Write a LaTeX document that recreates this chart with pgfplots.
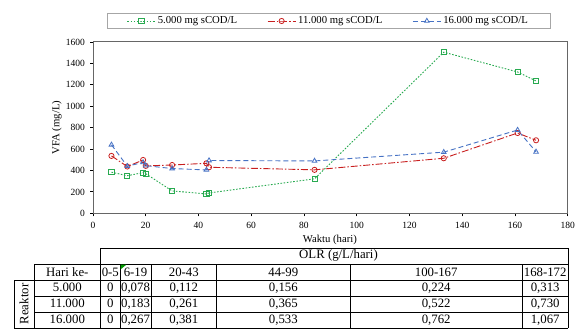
\documentclass[border=0pt]{standalone}
\usepackage{pgfplots}
\pgfplotsset{compat=1.18}
\usepackage{fontspec}
\setmainfont{Liberation Serif}
\definecolor{cg}{RGB}{40,170,80}
\definecolor{cr}{RGB}{200,30,30}
\definecolor{cb}{RGB}{70,114,196}
\newcommand{\tf}{\fontsize{12.8}{14}\selectfont}
\begin{document}
\begin{tikzpicture}
\begin{axis}[
  at={(93pt,-213.3pt)}, anchor=south west,
  scale only axis, width=474.7pt, height=171.3pt,
  xmin=0, xmax=180, ymin=0, ymax=1600,
  xtick={0,20,...,180}, ytick={0,200,...,1600},
  tick pos=left, tick align=outside, major tick length=3pt,
  tick style={black, line width=0.8pt},
  axis line style={black!60, line width=1pt},
  ticklabel style={font=\fontsize{9.5}{10}\selectfont},
  xticklabel style={yshift=-2.5pt},
  yticklabel style={xshift=-1.5pt},
  /pgf/number format/assume math mode=true,
  /pgf/number format/set thousands separator={},
  xlabel={Waktu (hari)}, ylabel={VFA (mg/L)},
  label style={font=\fontsize{10.7}{12}\selectfont},
  xlabel style={at={(axis description cs:0.499,-0.156)}, anchor=center},
  ylabel style={at={(axis description cs:-0.076,0.5)}, anchor=center},
  legend columns=3,
  legend style={at={(axis description cs:0.496,1.1226)}, anchor=center, draw=black!35, line width=0.8pt,
    font=\fontsize{10.7}{12}\selectfont, inner xsep=20pt, inner ysep=1.5pt,
    /tikz/every even column/.append style={column sep=28pt}},
  legend image code/.code={\draw[mark repeat=2,mark phase=2] plot coordinates {(0pt,0pt)(14pt,0pt)(28pt,0pt)};},
]
\addplot[cg, line width=0.9pt, dash pattern=on 1.6pt off 1.6pt, mark=square, mark size=2.6pt, mark options={solid, line width=0.8pt}]
  coordinates {(7,384)(13,351)(19,380)(20,370)(30,209)(43,181)(44,190)(84,322)(133,1505)(161,1320)(168,1236)};
\addlegendentry{5.000 mg sCOD/L}
\addplot[cr, line width=0.9pt, dash pattern=on 7pt off 2pt on 1.5pt off 2pt, mark=o, mark size=2.6pt, mark options={solid, line width=0.8pt}]
  coordinates {(7,536)(13,437)(19,498)(20,443)(30,451)(43,467)(44,430)(84,406)(133,514)(161,750)(168,682)};
\addlegendentry{11.000 mg sCOD/L}
\addplot[cb, line width=0.9pt, dash pattern=on 5pt off 3pt, mark=triangle, mark size=2.7pt, mark options={solid, line width=0.8pt}]
  coordinates {(7,640)(13,440)(19,475)(20,445)(30,418)(43,405)(44,493)(84,489)(133,571)(161,778)(168,574)};
\addlegendentry{16.000 mg sCOD/L}
\end{axis}
\begin{scope}[x=1pt,y=-1pt,line width=0.9pt]
\draw (100.7,248.3) -- (568,248.3);
\draw (34,264) -- (568,264);
\draw (14,280) -- (568,280);
\draw (34,296) -- (568,296);
\draw (34,312) -- (568,312);
\draw (14,328) -- (568,328);
\draw (14,280) -- (14,328);
\draw (34,264) -- (34,328);
\draw (100.7,248.3) -- (100.7,328);
\draw (120,264) -- (120,328);
\draw (151,264) -- (151,328);
\draw (216.7,264) -- (216.7,328);
\draw (350,264) -- (350,328);
\draw (522.3,264) -- (522.3,328);
\draw (568,248.3) -- (568,328);
\fill[green!60!black] (120.5,264.5) -- (126.5,264.5) -- (120.5,269.5) -- cycle;
\node[font=\tf, anchor=base, inner sep=0] at (338.5,258.5) {OLR (g/L/hari)};
\node[font=\tf, anchor=center, inner sep=0, rotate=90] at (24,304) {Reaktor};
\foreach \x/\t in {67.3/Hari ke-, 110.3/0-5, 135.5/6-19, 183.8/20-43, 283.3/44-99, 436.2/100-167, 545.2/168-172}
  \node[font=\tf, anchor=base, inner sep=0] at (\x,276.3) {\t};
\foreach \x/\t in {67.3/5.000, 110.3/0, 135.5/{0,078}, 183.8/{0,112}, 283.3/{0,156}, 436.2/{0,224}, 545.2/{0,313}}
  \node[font=\tf, anchor=base, inner sep=0] at (\x,291.8) {\t};
\foreach \x/\t in {67.3/11.000, 110.3/0, 135.5/{0,183}, 183.8/{0,261}, 283.3/{0,365}, 436.2/{0,522}, 545.2/{0,730}}
  \node[font=\tf, anchor=base, inner sep=0] at (\x,307.8) {\t};
\foreach \x/\t in {67.3/16.000, 110.3/0, 135.5/{0,267}, 183.8/{0,381}, 283.3/{0,533}, 436.2/{0,762}, 545.2/{1,067}}
  \node[font=\tf, anchor=base, inner sep=0] at (\x,323.8) {\t};
\end{scope}
\pgfresetboundingbox
\path (0pt,0pt) rectangle (581pt,-331pt);
\end{tikzpicture}
\end{document}
